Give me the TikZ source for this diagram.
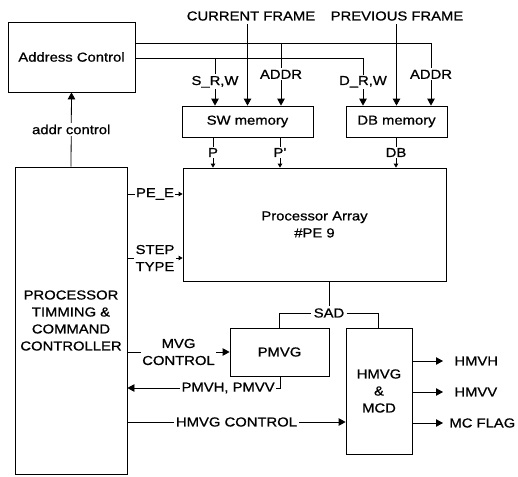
\documentclass[tikz,border=0pt]{standalone}
\usepackage{fontspec}
\setmainfont[FakeStretch=1.14,FakeBold=0.8]{Liberation Sans}
\usetikzlibrary{arrows.meta}
\begin{document}
\begin{tikzpicture}[x=1pt,y=-1pt,line width=0.8pt,
  txt/.style={font=\fontsize{13}{17}\selectfont,align=center},
  blk/.style={draw,txt,inner sep=0pt,anchor=center},
  lbl/.style={txt,fill=white,inner sep=1.5pt},
  big/.style={-{Triangle[length=7pt,width=7.5pt]}},
  small/.style={-{Triangle[length=4pt,width=4.5pt]}}]
\useasboundingbox (0,0) rectangle (518,476);
% boxes
\node[blk,minimum width=127pt,minimum height=70pt] (addr) at (71.5,57) {Address Control};
\node[blk,minimum width=131pt,minimum height=31pt] (sw) at (247.5,121.5) {SW memory};
\node[blk,minimum width=101pt,minimum height=31pt] (db) at (396.5,121.5) {DB memory};
\node[blk,minimum width=263pt,minimum height=113pt] (pa) at (314.5,224.5) {Processor Array\\\#PE 9};
\node[blk,minimum width=112pt,minimum height=307pt] (ctrl) at (71,320.5) {PROCESSOR\\TIMMING \&\\COMMAND\\CONTROLLER};
\node[blk,minimum width=99pt,minimum height=48pt] (pmvg) at (279.5,352) {PMVG};
\node[blk,minimum width=66pt,minimum height=126pt] (hmvg) at (379,391) {HMVG\\\&\\MCD};
% top labels
\node[txt] (cur) at (251,16) {CURRENT FRAME};
\node[txt] (prev) at (397,16) {PREVIOUS FRAME};
\draw[big] (cur.south -| sw.north) -- (sw.north);
\draw[big] (prev.south -| db.north) -- (db.north);
% address lines
\coordinate (tr) at (431,43);
\coordinate (sr) at (363,58);
\coordinate (sx) at (215,58);
\coordinate (ax) at (281,43);
\draw[big] (addr.east |- tr) -- (tr) -- node[lbl]{ADDR} (db.north -| tr);
\draw[big] (addr.east |- sr) -- (sr) -- node[lbl]{D\_R,W} (db.north -| sr);
\draw[big] (sx) -- node[lbl]{S\_R,W} (sw.north -| sx);
\draw[big] (ax) -- node[lbl]{ADDR} (sw.north -| ax);
% memory to PA
\coordinate (xP) at (213,0);
\coordinate (xPp) at (280,0);
\coordinate (xDB) at (396,0);
\draw[small] (sw.south -| xP) -- node[lbl]{P} (pa.north -| xP);
\draw[small] (sw.south -| xPp) -- node[lbl]{P'} (pa.north -| xPp);
\draw[small] (db.south -| xDB) -- node[lbl]{DB} (pa.north -| xDB);
% addr control
\draw[big] (ctrl.north) -- node[lbl]{addr control} (addr.south);
% PE_E, STEP TYPE
\coordinate (ype) at (0,194);
\coordinate (yst) at (0,258);
\draw[small] (ctrl.east |- ype) -- node[lbl]{PE\_E} (pa.west |- ype);
\draw[small] (ctrl.east |- yst) -- node[lbl]{STEP\\TYPE} (pa.west |- yst);
% SAD
\node[txt,inner sep=2pt] (sad) at (329,313) {SAD};
\coordinate (sadL) at (279,313);
\coordinate (sadR) at (378,313);
\draw (pa.south -| sad.north) -- (sad.north);
\draw (pmvg.north -| sadL) -- (sadL) -- (sad.west);
\draw (sad.east) -- (sadR) -- (hmvg.north -| sadR);
% MVG control
\draw[big] (ctrl.east |- pmvg.west) -- node[lbl]{MVG\\CONTROL} (pmvg.west);
% PMVH, PMVV
\coordinate (pv) at (280,388);
\draw[big] (pmvg.south -| pv) -- (pv) -- node[lbl,pos=0.34]{PMVH, PMVV} (ctrl.east |- pv);
% HMVG control
\coordinate (hy) at (0,422);
\draw[big] (ctrl.east |- hy) -- node[lbl]{HMVG CONTROL} (hmvg.west |- hy);
% outputs
\node[txt,anchor=west,inner xsep=0pt] (o1) at (454,361) {HMVH};
\node[txt,anchor=west,inner xsep=0pt] (o2) at (454,392) {HMVV};
\node[txt,anchor=west,inner xsep=0pt] (o3) at (449,423) {MC FLAG};
\coordinate (oe) at (443,0);
\draw[big] (hmvg.east |- o1) -- (oe |- o1);
\draw[big] (hmvg.east |- o2) -- (oe |- o2);
\draw[big] (hmvg.east |- o3) -- (oe |- o3);
\end{tikzpicture}
\end{document}
